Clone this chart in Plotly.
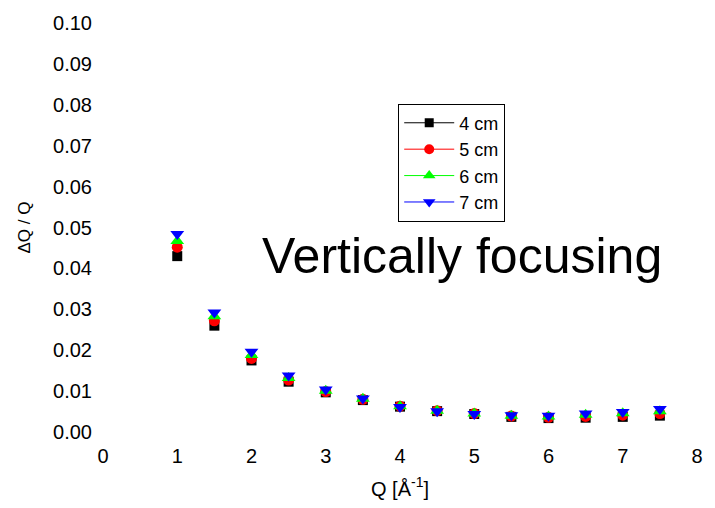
import plotly.graph_objects as go

# Momentum transfer Q [1/Å]
q = [1.0, 1.5, 2.0, 2.5, 3.0, 3.5, 4.0, 4.5, 5.0, 5.5, 6.0, 6.5, 7.0, 7.5]

# Relative resolution dQ/Q for each collimation distance
res_4cm = [0.0430, 0.0260, 0.0175, 0.0123, 0.0097, 0.0078, 0.0062, 0.0051, 0.0044, 0.0037, 0.0034, 0.0035, 0.0037, 0.0040]
res_5cm = [0.0452, 0.0272, 0.0180, 0.0127, 0.0099, 0.0080, 0.0063, 0.0052, 0.0045, 0.0039, 0.0036, 0.0038, 0.0041, 0.0045]
res_6cm = [0.0467, 0.0283, 0.0188, 0.0132, 0.0101, 0.0081, 0.0063, 0.0052, 0.0045, 0.0040, 0.0038, 0.0042, 0.0046, 0.0051]
res_7cm = [0.0484, 0.0292, 0.0196, 0.0138, 0.0104, 0.0082, 0.0061, 0.0051, 0.0044, 0.0041, 0.0040, 0.0045, 0.0049, 0.0056]

series_names = ["4 cm", "5 cm", "6 cm", "7 cm"]
series_values = [res_4cm, res_5cm, res_6cm, res_7cm]
series_colors = ["#000000", "#ff0000", "#00ff00", "#0000ff"]
series_symbols = ["square", "circle", "triangle-up", "triangle-down"]
series_sizes = [10, 11, 12, 12]

y_ticks = [0.00, 0.01, 0.02, 0.03, 0.04, 0.05, 0.06, 0.07, 0.08, 0.09, 0.10]
x_ticks = [0, 1, 2, 3, 4, 5, 6, 7, 8]

font_family = "Liberation Sans, Arial, sans-serif"

fig = go.Figure()

for name, vals, col, sym, sz in zip(series_names, series_values, series_colors,
                                    series_symbols, series_sizes):
    # scatter points in the plot area
    fig.add_trace(go.Scatter(
        x=q, y=vals, mode="markers", name=name, showlegend=False,
        marker=dict(symbol=sym, color=col, size=sz, line=dict(width=0)),
        cliponaxis=False,
    ))
    # legend entry drawn as line + symbol
    fig.add_trace(go.Scatter(
        x=[None], y=[None], mode="lines+markers", name=name,
        line=dict(color=col, width=1),
        marker=dict(symbol=sym, color=col, size=sz - 1, line=dict(width=0)),
    ))

fig.add_annotation(
    x=4.84, y=0.0431, xref="x", yref="y",
    text="Vertically focusing", showarrow=False,
    font=dict(family=font_family, size=50, color="#000000"),
)

fig.update_layout(
    width=715, height=508,
    margin=dict(l=103, r=17, t=16, b=76),
    paper_bgcolor="white", plot_bgcolor="white",
    font=dict(family=font_family, size=18, color="#000000"),
    showlegend=True,
    legend=dict(
        x=0.497, y=0.803, xanchor="left", yanchor="top",
        bgcolor="white", bordercolor="#000000", borderwidth=1,
        font=dict(family=font_family, size=18, color="#000000"),
        itemwidth=50,
    ),
    xaxis=dict(
        range=[0, 8], tickvals=x_ticks, ticktext=[str(v) for v in x_ticks],
        showgrid=False, zeroline=False, showline=False, ticks="",
        ticklabelstandoff=10,
        title=dict(text="Q [Å<sup>-1</sup>]", standoff=15,
                   font=dict(family=font_family, size=20)),
        tickfont=dict(family=font_family, size=20),
    ),
    yaxis=dict(
        range=[0, 0.10], tickvals=y_ticks, tickformat=".2f",
        showgrid=False, zeroline=False, showline=False, ticks="",
        ticklabelstandoff=10,
        title=dict(text="ΔQ / Q", standoff=18,
                   font=dict(family=font_family, size=17)),
        tickfont=dict(family=font_family, size=20),
    ),
)

fig.write_html("out.html")
